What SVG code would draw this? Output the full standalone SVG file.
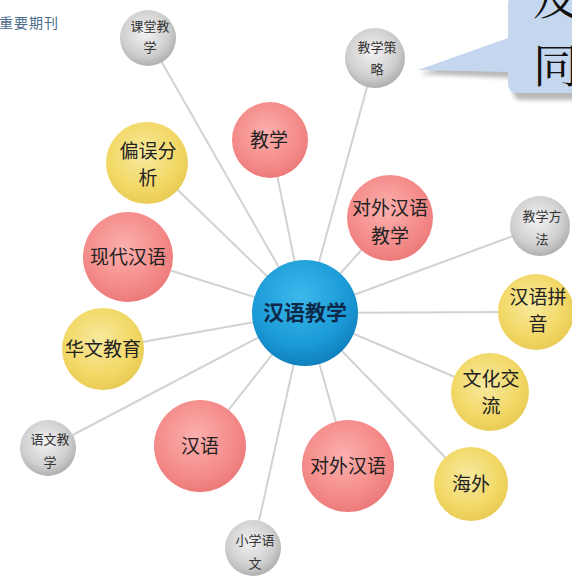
<svg xmlns="http://www.w3.org/2000/svg" width="572" height="586" viewBox="0 0 572 586">
<defs>
<radialGradient id="gPink" cx="45%" cy="40%" r="60%"><stop offset="0" stop-color="#fbb0ae"/><stop offset="0.7" stop-color="#f48c8a"/><stop offset="1" stop-color="#ec7b7a"/></radialGradient>
<radialGradient id="gYellow" cx="45%" cy="40%" r="60%"><stop offset="0" stop-color="#f8eaa0"/><stop offset="0.7" stop-color="#f2d866"/><stop offset="1" stop-color="#e9cc55"/></radialGradient>
<radialGradient id="gGray" cx="45%" cy="40%" r="60%"><stop offset="0" stop-color="#f2f2f2"/><stop offset="0.7" stop-color="#cfcfcf"/><stop offset="1" stop-color="#b0b0b0"/></radialGradient>
<radialGradient id="gBlue" cx="45%" cy="35%" r="65%"><stop offset="0" stop-color="#3cb8ec"/><stop offset="0.7" stop-color="#1a9ad6"/><stop offset="1" stop-color="#1080bd"/></radialGradient>
<filter id="sh" x="-20%" y="-20%" width="140%" height="140%"><feGaussianBlur stdDeviation="2"/></filter>
</defs>
<style>
text{font-family:"Noto Sans CJK SC","Noto Sans CJK JP",sans-serif;text-anchor:middle;fill:#222}
.big{font-size:19px}
.sm{font-size:13px;fill:#333}
.ctr{font-size:21px;font-weight:bold;fill:#0d2a4a}
.lk line{stroke:#d2d2d2;stroke-width:2}
.pink{fill:url(#gPink)}
.yel{fill:url(#gYellow)}
.gray{fill:url(#gGray)}
</style>
<rect width="572" height="586" fill="#ffffff"/>
<text x="29" y="28" style="font-size:14px;fill:#4a6d8c;letter-spacing:1px">重要期刊</text>
<g id="callout">
<path d="M522 3 H580 V100 H522 Q513 100 513 91 V78 L420 74 L513 44 V3 Z" fill="#8a8a8a" opacity="0.6" filter="url(#sh)"/>
<path d="M518 -5 H580 V93 H518 Q508 93 508 83 V72 L418 70 L508 38 V5 Q508 -5 518 -5 Z" fill="#c5d7ee"/>
<text x="556" y="14" style="font-size:46px;font-family:'Noto Serif CJK SC','Noto Sans CJK SC',serif;fill:#111">及</text>
<text x="556" y="82" style="font-size:46px;font-family:'Noto Serif CJK SC','Noto Sans CJK SC',serif;fill:#111">同</text>
</g>
<g id="connectors" class="lk">
<line x1="305" y1="313" x2="148" y2="38"/>
<line x1="305" y1="313" x2="375" y2="58"/>
<line x1="305" y1="313" x2="270" y2="140"/>
<line x1="305" y1="313" x2="150" y2="163"/>
<line x1="305" y1="313" x2="390" y2="218"/>
<line x1="305" y1="313" x2="540" y2="226"/>
<line x1="305" y1="313" x2="128" y2="257"/>
<line x1="305" y1="313" x2="535" y2="312"/>
<line x1="305" y1="313" x2="103" y2="349"/>
<line x1="305" y1="313" x2="490" y2="392"/>
<line x1="305" y1="313" x2="48" y2="448"/>
<line x1="305" y1="313" x2="200" y2="446"/>
<line x1="305" y1="313" x2="348" y2="465"/>
<line x1="305" y1="313" x2="471" y2="484"/>
<line x1="305" y1="313" x2="253" y2="548"/>
</g>
<g id="n-ketang"><circle cx="148" cy="38" r="28" class="gray"/><text class="sm" x="150" y="31">课堂教</text><text class="sm" x="150" y="52">学</text></g>
<g id="n-celue"><circle cx="375" cy="58" r="30" class="gray"/><text class="sm" x="377" y="52">教学策</text><text class="sm" x="377" y="74">略</text></g>
<g id="n-jiaoxue"><circle cx="270" cy="140" r="38" class="pink"/><text class="big" x="269" y="147">教学</text></g>
<g id="n-pianwu"><circle cx="147" cy="163" r="41" class="yel"/><text class="big" x="148" y="158">偏误分</text><text class="big" x="148" y="185">析</text></g>
<g id="n-duiwaijx"><circle cx="390" cy="218" r="43" class="pink"/><text class="big" x="390" y="215">对外汉语</text><text class="big" x="390" y="243">教学</text></g>
<g id="n-fangfa"><circle cx="540" cy="226" r="30" class="gray"/><text class="sm" x="542" y="221">教学方</text><text class="sm" x="542" y="244">法</text></g>
<g id="n-xiandai"><circle cx="128" cy="257" r="45" class="pink"/><text class="big" x="128" y="264">现代汉语</text></g>
<g id="n-center"><circle cx="305" cy="313" r="53" fill="url(#gBlue)"/><text class="ctr" x="305" y="320">汉语教学</text></g>
<g id="n-pinyin"><circle cx="536" cy="312" r="38" class="yel"/><text class="big" x="538" y="304">汉语拼</text><text class="big" x="538" y="331">音</text></g>
<g id="n-huawen"><circle cx="103" cy="349" r="41" class="yel"/><text class="big" x="103" y="356">华文教育</text></g>
<g id="n-wenhua"><circle cx="490" cy="392" r="39" class="yel"/><text class="big" x="491" y="386">文化交</text><text class="big" x="491" y="413">流</text></g>
<g id="n-yuwenjx"><circle cx="48" cy="448" r="28" class="gray"/><text class="sm" x="50" y="444">语文教</text><text class="sm" x="50" y="467">学</text></g>
<g id="n-hanyu"><circle cx="200" cy="446" r="46" class="pink"/><text class="big" x="200" y="453">汉语</text></g>
<g id="n-duiwai"><circle cx="348" cy="466" r="46" class="pink"/><text class="big" x="348" y="473">对外汉语</text></g>
<g id="n-haiwai"><circle cx="471" cy="484" r="37" class="yel"/><text class="big" x="471" y="491">海外</text></g>
<g id="n-xiaoxue"><circle cx="253" cy="548" r="28" class="gray"/><text class="sm" x="255" y="545">小学语</text><text class="sm" x="255" y="568">文</text></g>
</svg>
